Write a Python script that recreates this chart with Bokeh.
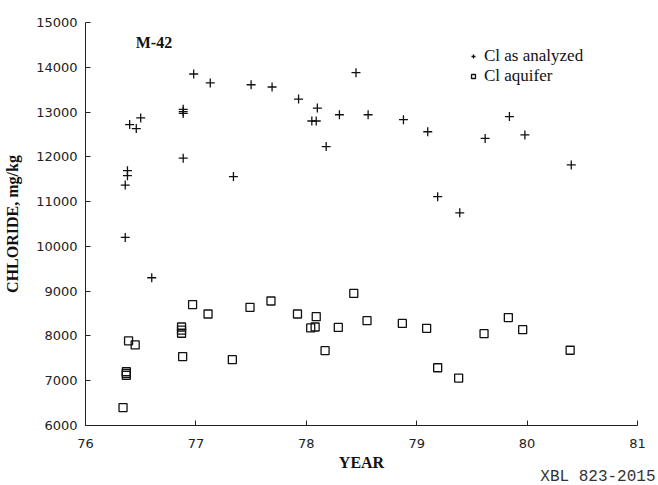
from bokeh.plotting import figure
from bokeh.models import Range1d, FixedTicker, Legend, LegendItem, Label, Title
from bokeh.embed import file_html
from bokeh.resources import INLINE

# Cl as analyzed (year, mg/kg)
an_year = [76.36, 76.36, 76.38, 76.38, 76.40, 76.46, 76.50, 76.60,
           76.885, 76.885, 76.885, 76.885, 76.98, 77.13, 77.34, 77.50, 77.69,
           77.93, 78.05, 78.09, 78.10, 78.18, 78.30, 78.45, 78.56, 78.88,
           79.10, 79.19, 79.39, 79.62, 79.84, 79.98, 80.40]
an_cl = [10200, 11370, 11580, 11690, 12720, 12630, 12870, 9300,
         13060, 13010, 12970, 11970, 13850, 13650, 11560, 13610, 13560,
         13290, 12800, 12800, 13090, 12230, 12940, 13880, 12940, 12830,
         12560, 11110, 10750, 12410, 12900, 12490, 11820]

# Cl aquifer (year, mg/kg)
aq_year = [76.34, 76.37, 76.37, 76.37, 76.39, 76.45,
           76.87, 76.87, 76.87, 76.88, 76.97, 77.11, 77.33, 77.49, 77.68,
           77.92, 78.04, 78.08, 78.09, 78.17, 78.29, 78.43, 78.55, 78.87,
           79.09, 79.19, 79.38, 79.61, 79.83, 79.96, 80.39]
aq_cl = [6400, 7200, 7160, 7120, 7890, 7800,
         8200, 8130, 8060, 7540, 8700, 8490, 7470, 8640, 8780,
         8490, 8180, 8200, 8430, 7670, 8190, 8950, 8340, 8280,
         8170, 7290, 7060, 8050, 8410, 8140, 7680]

x_ticks = [76, 77, 78, 79, 80, 81]
y_ticks = [6000, 7000, 8000, 9000, 10000, 11000, 12000, 13000, 14000, 15000]

p = figure(width=658, height=485, output_backend="svg", toolbar_location=None,
           x_range=Range1d(76, 81), y_range=Range1d(6000, 15000),
           min_border_left=85, min_border_right=21, min_border_top=22,
           min_border_bottom=60)
p.outline_line_color = None
p.xgrid.visible = False
p.ygrid.visible = False
p.background_fill_color = "white"
p.border_fill_color = "white"

for ax in (p.xaxis, p.yaxis):
    ax.major_tick_in = 5
    ax.major_tick_out = 0
    ax.minor_tick_line_color = None
    ax.axis_line_color = "#222222"
    ax.major_tick_line_color = "#222222"
    ax.major_label_text_font = "DejaVu Sans"
    ax.major_label_text_font_size = "13px"
    ax.major_label_text_color = "#222222"
    ax.axis_label_text_font = "Liberation Serif"
    ax.axis_label_text_font_style = "bold"
    ax.axis_label_text_font_size = "16px"
    ax.axis_label_text_color = "#111111"

p.xaxis.ticker = FixedTicker(ticks=x_ticks)
p.yaxis.ticker = FixedTicker(ticks=y_ticks)
p.xaxis.axis_label = "YEAR"
p.yaxis.axis_label = "CHLORIDE, mg/kg"
p.xaxis.major_label_standoff = 13
p.yaxis.major_label_standoff = 8
p.xaxis.axis_label_standoff = 3
p.yaxis.axis_label_standoff = 12

r1 = p.scatter(an_year, an_cl, marker="cross", size=9, line_color="#111111",
               line_width=1.3)
r2 = p.scatter(aq_year, aq_cl, marker="square", size=8, line_color="#111111",
               line_width=1.3, fill_alpha=0)

legend = Legend(items=[LegendItem(label="Cl as analyzed", renderers=[r1]),
                       LegendItem(label="Cl aquifer", renderers=[r2])],
                location=(383, 339), padding=0, spacing=0, margin=0,
                glyph_width=10, glyph_height=14, label_height=20,
                label_standoff=6, border_line_alpha=0,
                background_fill_alpha=0,
                label_text_font="Liberation Serif",
                label_text_font_size="17px", label_text_color="#111111")
p.add_layout(legend)

p.add_layout(Label(x=76.62, y=14560, text="M-42", text_font="Liberation Serif",
                   text_font_style="bold", text_font_size="16px",
                   text_align="center", text_baseline="middle",
                   text_color="#111111"))

xbl = Title(text="XBL 823-2015", align="right", standoff=-24, offset=-18,
            text_line_height=1.7,
            text_font="Liberation Mono", text_font_size="16px",
            text_font_style="normal", text_color="#333333")
p.add_layout(xbl, "below")

open("out.html", "w").write(file_html(p, INLINE))
